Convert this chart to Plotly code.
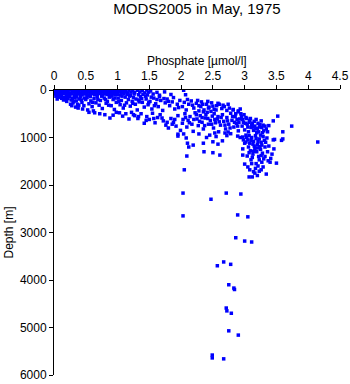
import plotly.graph_objects as go

# Phosphate [umol/l] and depth [m] observations, grouped by depth layer
surface_layer = [
    (0.02, 5), (0.06, 10), (0.10, 0), (0.14, 20), (0.18, 5), (0.22, 15), (0.26, 0), (0.30, 10),
    (0.34, 25), (0.38, 5), (0.42, 0), (0.46, 20), (0.50, 10), (0.54, 0), (0.58, 15), (0.62, 5),
    (0.66, 25), (0.70, 0), (0.74, 10), (0.78, 20), (0.82, 5), (0.86, 0), (0.90, 15), (0.94, 10),
    (0.98, 0), (1.03, 20), (1.08, 5), (1.13, 10), (1.18, 0), (1.24, 15), (1.31, 5), (1.39, 10),
    (1.46, 0), (1.52, 20), (2.04, 5),
    (0.01, 45), (0.05, 60), (0.09, 40), (0.13, 55), (0.17, 35), (0.21, 50), (0.25, 65), (0.29, 40),
    (0.33, 55), (0.37, 45), (0.41, 60), (0.45, 35), (0.49, 50), (0.53, 40), (0.57, 65), (0.61, 45),
    (0.65, 55), (0.69, 35), (0.73, 60), (0.77, 45), (0.81, 50), (0.85, 40), (0.89, 60), (0.93, 45),
    (0.97, 55), (1.01, 35), (1.06, 50), (1.11, 40), (1.16, 60), (1.21, 45), (1.27, 55), (1.35, 40),
    (1.43, 60), (1.49, 45), (1.62, 50), (1.74, 40),
    (0.00, 80), (0.04, 95), (0.08, 85), (0.12, 105), (0.16, 75), (0.20, 90), (0.24, 100), (0.28, 80),
    (0.32, 110), (0.36, 90), (0.40, 75), (0.44, 100), (0.48, 85), (0.52, 95), (0.56, 110), (0.60, 80),
    (0.64, 100), (0.68, 90), (0.72, 75), (0.76, 105), (0.80, 85), (0.84, 95), (0.88, 110), (0.92, 80),
    (0.96, 100), (1.00, 90), (1.05, 105), (1.10, 80), (1.15, 95), (1.20, 110), (1.26, 85), (1.33, 100),
    (1.40, 90), (1.47, 105), (1.56, 85), (1.66, 110), (1.84, 95), (2.07, 100),
]

upper_layer = [
    (0.03, 130), (0.07, 150), (0.05, 190), (0.10, 140), (0.12, 175), (0.15, 210), (0.18, 150),
    (0.20, 240), (0.22, 180), (0.25, 135), (0.27, 210), (0.30, 270), (0.32, 160), (0.35, 230),
    (0.37, 300), (0.40, 190), (0.42, 140), (0.44, 260), (0.47, 330), (0.50, 200), (0.52, 160),
    (0.55, 290), (0.58, 230), (0.60, 350), (0.63, 180), (0.66, 270), (0.68, 140), (0.71, 320),
    (0.73, 220), (0.76, 390), (0.79, 170), (0.82, 280), (0.84, 240), (0.87, 150), (0.90, 330),
    (0.93, 200), (0.95, 410), (0.98, 260), (1.01, 170), (1.04, 310), (1.06, 220), (1.09, 380),
    (1.12, 150), (1.14, 270), (1.17, 200), (1.20, 340), (1.23, 240), (1.25, 160), (1.28, 300),
    (1.31, 420), (1.33, 210), (1.36, 140), (1.39, 260), (1.42, 360), (1.45, 190), (1.48, 310),
    (1.51, 240), (1.54, 400), (1.57, 170), (1.60, 290), (1.64, 350), (1.68, 220), (1.71, 430),
    (1.75, 270), (1.78, 190), (1.82, 330), (1.86, 250), (1.90, 400), (1.94, 300), (1.98, 220),
    (2.02, 350), (2.05, 260), (2.08, 420), (2.12, 300), (2.16, 230), (2.20, 380), (2.24, 280),
    (2.28, 330), (2.32, 250), (2.36, 420), (2.40, 300), (2.44, 360), (2.48, 270), (2.52, 410),
    (2.56, 330), (2.60, 300), (2.64, 390), (2.68, 350), (2.72, 430), (2.76, 380), (2.82, 410),
    (2.90, 440), (0.28, 330), (0.34, 360), (0.38, 380), (0.45, 400), (0.53, 420), (0.62, 440),
    (0.08, 120), (0.14, 160), (0.19, 200), (0.23, 130), (0.29, 180), (0.36, 150), (0.43, 210),
    (0.48, 170), (0.57, 140), (0.61, 260), (0.69, 200), (0.75, 130), (0.81, 200), (0.86, 320),
    (0.91, 130), (0.96, 170), (1.02, 240), (1.07, 130), (1.11, 320), (1.19, 130), (1.24, 280),
    (1.29, 190), (1.34, 250), (1.38, 180), (1.44, 130), (1.49, 270), (1.53, 150), (1.58, 330),
    (1.62, 200), (1.66, 140), (1.73, 180), (1.80, 240), (1.88, 160), (1.96, 370), (2.10, 200),
    (2.18, 320), (2.26, 220), (2.34, 300), (2.42, 240), (2.50, 340), (2.58, 280), (2.66, 320),
    (2.74, 300), (0.26, 300), (0.31, 240), (0.39, 320),
]

middle_layer = [
    (0.55, 470), (0.64, 480), (0.72, 500), (0.80, 520), (0.88, 590), (0.93, 530), (0.98, 470),
    (1.03, 480), (1.08, 550), (1.13, 500), (1.18, 610), (1.22, 470), (1.27, 540), (1.32, 600),
    (1.37, 500), (1.42, 700), (1.46, 560), (1.50, 620), (1.55, 490), (1.59, 690), (1.63, 580),
    (1.67, 520), (1.72, 650), (1.76, 740), (1.80, 800), (1.84, 600), (1.88, 680), (1.92, 760),
    (1.95, 540), (1.99, 850), (2.02, 700), (2.03, 620),
    (2.06, 500), (2.09, 780), (2.11, 640), (2.14, 560), (2.17, 720), (2.19, 870), (2.22, 480),
    (2.25, 610), (2.27, 750), (2.30, 540), (2.33, 680), (2.35, 820), (2.38, 590), (2.41, 470),
    (2.43, 720), (2.46, 640), (2.49, 550), (2.51, 800), (2.54, 690), (2.57, 610), (2.59, 880),
    (2.62, 740), (2.65, 520), (2.67, 660), (2.70, 820), (2.72, 580), (2.75, 720), (2.78, 490),
    (2.80, 640), (2.83, 780), (2.85, 560), (2.87, 700), (2.90, 860), (2.92, 610), (2.94, 500),
    (2.96, 760), (2.98, 680), (3.00, 840), (3.02, 580), (3.04, 720), (3.06, 880), (3.08, 640),
    (3.10, 790), (3.12, 700), (3.14, 850), (3.16, 760), (3.18, 620), (3.20, 810), (3.22, 880),
    (3.24, 730), (3.27, 790), (3.30, 860), (3.34, 820), (3.38, 750), (3.52, 550), (3.45, 650),
    (3.74, 760), (3.60, 880),
    (2.31, 350), (2.35, 460), (2.39, 520), (2.43, 380), (2.47, 450), (2.52, 500), (2.55, 420),
    (2.58, 560), (2.33, 580), (2.28, 440),
    (2.82, 420), (2.86, 500), (2.90, 460), (2.95, 560), (2.99, 520), (3.03, 600), (2.88, 620),
    (2.93, 400), (3.09, 600), (3.15, 660), (3.21, 700), (3.26, 650), (3.29, 740), (3.13, 780),
    (3.19, 900), (3.25, 950),
    (2.07, 580), (2.13, 690), (2.20, 620), (2.24, 520), (2.29, 660), (2.37, 750), (2.42, 600),
    (2.48, 720), (2.53, 620), (2.60, 670), (2.63, 580), (2.69, 740), (2.73, 650), (2.77, 800),
    (2.81, 560), (2.84, 680), (2.89, 760), (2.91, 680), (2.97, 620), (3.01, 700), (3.05, 780),
    (3.07, 680), (3.11, 740), (3.17, 820), (3.23, 780), (3.28, 900), (3.32, 760), (3.36, 880),
    (1.70, 590), (1.78, 680), (1.86, 720), (1.90, 620), (1.57, 600), (1.45, 640), (1.33, 560),
    (1.25, 520),
]

lower_layer = [
    (1.95, 930), (2.04, 925), (2.08, 1010), (2.10, 1120), (2.12, 1200), (2.09, 1390), (2.05, 1680),
    (1.95, 970), (2.28, 925), (2.19, 1160), (2.35, 1120), (2.36, 1300), (2.50, 1320), (2.61, 1370),
    (2.65, 1070), (2.50, 1090), (2.58, 1140), (2.45, 950), (2.55, 980), (2.72, 960), (2.78, 920),
    (2.40, 1000), (2.53, 905), (2.69, 905), (2.74, 885), (2.89, 970), (2.97, 990), (3.02, 1095),
    (2.93, 1000), (2.97, 1240), (2.97, 1370), (3.00, 1560), (3.08, 1680), (3.12, 1830), (3.07, 1830),
    (3.16, 1750), (3.26, 1680), (3.34, 1770), (3.23, 1470), (3.27, 1520), (3.40, 1520), (3.50, 1540),
    (3.43, 1350), (3.46, 1240), (3.10, 1470),
    (3.02, 950), (3.05, 1050), (3.08, 1120), (3.11, 1000), (3.14, 1080), (3.17, 960), (3.20, 1150),
    (3.23, 1030), (3.26, 1100), (3.29, 980), (3.32, 1200), (3.06, 1200), (3.09, 1280), (3.13, 1350),
    (3.16, 1230), (3.19, 1300), (3.22, 1400), (3.25, 1250), (3.28, 1330), (3.31, 1060), (3.35, 1010),
    (3.12, 1420), (3.18, 1550), (3.21, 1600), (3.04, 1390), (3.15, 1180), (3.24, 1190), (3.30, 1450),
    (3.36, 1300), (3.00, 1120), (2.98, 1050),
    (3.60, 1030), (3.45, 1050), (3.47, 1040), (3.58, 1060), (4.15, 1095),
    (3.03, 1000), (3.07, 960), (3.10, 1060), (3.13, 1140), (3.18, 1020), (3.21, 1080), (3.27, 1160),
    (3.33, 1100), (3.38, 1180), (3.07, 1320), (3.14, 1290), (3.20, 1220), (3.26, 1380), (3.32, 1400),
    (3.11, 1550), (3.17, 1650), (3.23, 1710), (3.29, 1620), (3.14, 1720), (3.20, 1800), (3.05, 1620),
    (3.37, 1490), (3.41, 1440),
]

deep_layer = [
    (2.03, 2170), (2.71, 2170), (2.94, 2190), (2.47, 2300), (2.03, 2650), (2.89, 2630),
    (3.05, 2670), (2.86, 3110), (3.00, 3180), (3.11, 3200), (2.67, 3620), (2.57, 3700),
    (2.78, 3670), (2.75, 4100), (2.83, 4170), (2.84, 4200), (2.71, 4590), (2.72, 4650),
    (2.79, 4700), (2.75, 5070), (2.90, 5160), (2.49, 5580), (2.49, 5640), (2.67, 5660),
]

x_ticks = [0, 0.5, 1, 1.5, 2, 2.5, 3, 3.5, 4, 4.5]
x_tick_labels = ["0", "0.5", "1", "1.5", "2", "2.5", "3", "3.5", "4", "4.5"]
depth_ticks = [0, 1000, 2000, 3000, 4000, 5000, 6000]

all_obs = surface_layer + upper_layer + middle_layer + lower_layer + deep_layer
phosphate = [p for p, _ in all_obs]
depth = [d for _, d in all_obs]

FONT = "Liberation Sans, Arial, Helvetica, sans-serif"

fig = go.Figure(
    go.Scatter(
        x=phosphate,
        y=depth,
        mode="markers",
        marker=dict(symbol="square", size=3.5, color="#0000ff", line=dict(width=0)),
        hoverinfo="x+y",
    )
)

axis_common = dict(
    showline=True, linecolor="black", linewidth=1, showgrid=False, zeroline=False,
    ticks="outside", ticklen=4, tickcolor="black", tickwidth=1, automargin=False,
    tickfont=dict(family=FONT, size=12, color="black"),
)

fig.update_layout(
    width=350, height=384,
    margin=dict(l=54, r=10, t=90, b=9),
    paper_bgcolor="white", plot_bgcolor="white",
    showlegend=False,
    font=dict(family=FONT, color="black"),
    title=dict(
        text="MODS2005 in May, 1975",
        x=(54 + 340) / 2 / 350, xanchor="center",
        y=1 - 9 / 384, yanchor="middle", yref="container",
        font=dict(family=FONT, size=15, color="black"),
    ),
    xaxis=dict(
        side="top", range=[0, 4.5], tickvals=x_ticks, ticktext=x_tick_labels,
        **axis_common,
    ),
    yaxis=dict(
        range=[6000, 0], tickvals=depth_ticks, **axis_common,
    ),
    annotations=[
        dict(
            text="Phosphate [\u00b5mol/l]", xref="paper", yref="paper",
            x=0.5, y=1, yshift=29, xanchor="center", yanchor="middle",
            showarrow=False, font=dict(family=FONT, size=12, color="black"),
        ),
        dict(
            text="Depth [m]", xref="paper", yref="paper",
            x=0, xshift=-46, y=0.5, xanchor="center", yanchor="middle",
            textangle=-90, showarrow=False,
            font=dict(family=FONT, size=12, color="black"),
        ),
    ],
)

fig.write_html("out.html")
